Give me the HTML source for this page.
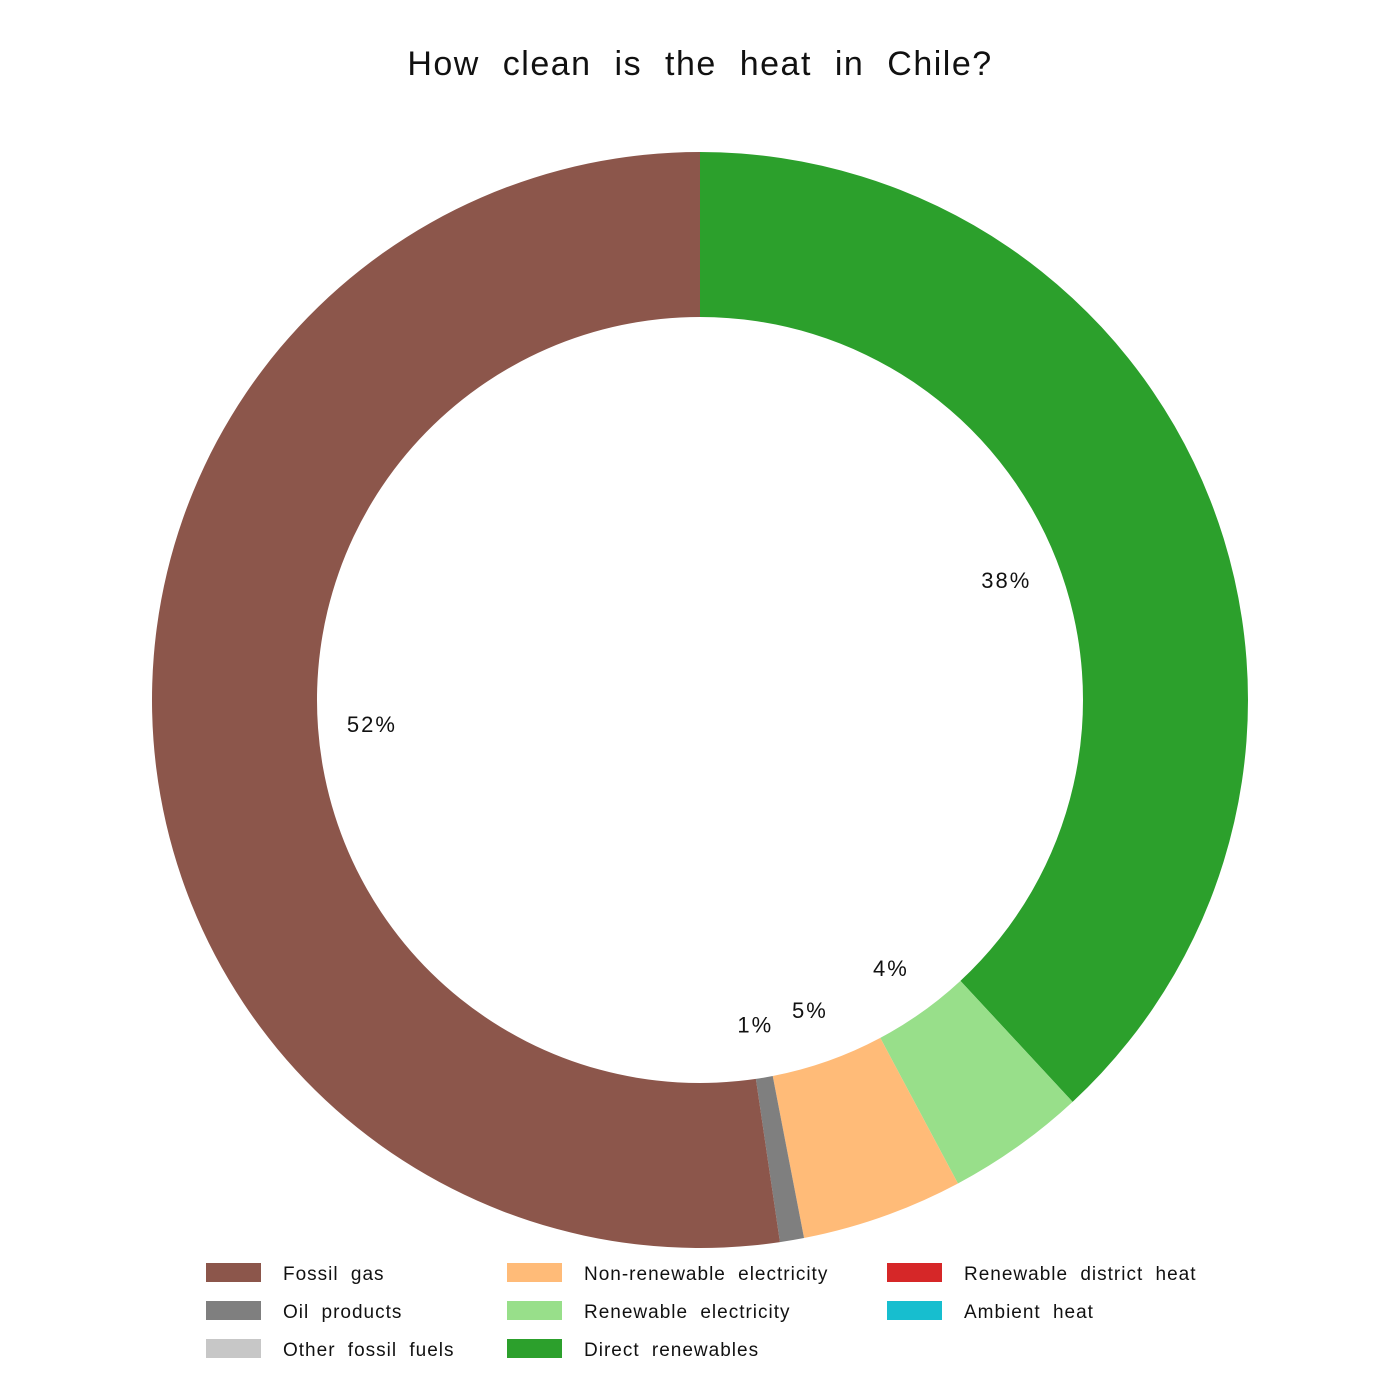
<!DOCTYPE html>
<html><head><meta charset="utf-8">
<style>
html,body{margin:0;padding:0;background:#fff;}
svg{display:block;font-family:"Liberation Sans","DejaVu Sans",sans-serif;}
</style></head>
<body>
<svg id="chart" width="1400" height="1400" viewBox="0 0 1400 1400">
<text x="700" y="75" text-anchor="middle" font-size="34" fill="#111" letter-spacing="1.5" word-spacing="12">How clean is the heat in Chile?</text>
<g id="slices"></g>
<g id="labels"></g>
<g id="legend"></g>
</svg>
<script>
const categories = ["Direct renewables","Renewable electricity","Non-renewable electricity","Oil products","Fossil gas"];
const values = [38.1, 4.1, 4.76, 0.71, 52.33];
const pctLabels = ["38%","4%","5%","1%","52%"];
const colors = ["#2ca02c","#98df8a","#ffbb78","#7f7f7f","#8c564b"];
const legendNames = ["Fossil gas","Oil products","Other fossil fuels","Non-renewable electricity","Renewable electricity","Direct renewables","Renewable district heat","Ambient heat"];
const legendColors = ["#8c564b","#7f7f7f","#c7c7c7","#ffbb78","#98df8a","#2ca02c","#d62728","#17becf"];

const NS="http://www.w3.org/2000/svg";
const cx=700, cy=700, R=548, r=383, LR=329;
const total=values.reduce((a,b)=>a+b,0);
function pt(rad,ang){return [cx+rad*Math.sin(ang), cy-rad*Math.cos(ang)];}
let a0=0;
const gS=document.getElementById('slices'), gL=document.getElementById('labels');
values.forEach((v,i)=>{
  const a1=a0+v/total*2*Math.PI;
  const large=(a1-a0)>Math.PI?1:0;
  const [x0,y0]=pt(R,a0),[x1,y1]=pt(R,a1),[x2,y2]=pt(r,a1),[x3,y3]=pt(r,a0);
  const p=document.createElementNS(NS,'path');
  p.setAttribute('d',`M${x0},${y0}A${R},${R} 0 ${large} 1 ${x1},${y1}L${x2},${y2}A${r},${r} 0 ${large} 0 ${x3},${y3}Z`);
  p.setAttribute('fill',colors[i]);
  
  
  gS.appendChild(p);
  const am=(a0+a1)/2;
  const [lx,ly]=pt(LR,am);
  const t=document.createElementNS(NS,'text');
  t.setAttribute('x',lx);t.setAttribute('y',ly+8);
  t.setAttribute('text-anchor','middle');t.setAttribute('font-size','22');t.setAttribute('fill','#111');
  t.setAttribute('letter-spacing','2');
  t.textContent=pctLabels[i];
  
  
  gL.appendChild(t);
  a0=a1;
});
const gLeg=document.getElementById('legend');
const colX=[206,507,887], rowY=[1263,1301,1339];
legendNames.forEach((n,i)=>{
  const c=Math.floor(i/3), rr=i%3;
  const g=document.createElementNS(NS,'g');
  
  
  const rect=document.createElementNS(NS,'rect');
  rect.setAttribute('x',colX[c]);rect.setAttribute('y',rowY[rr]);
  rect.setAttribute('width',55);rect.setAttribute('height',19);
  rect.setAttribute('fill',legendColors[i]);
  
  
  const t=document.createElementNS(NS,'text');
  t.setAttribute('x',colX[c]+77);t.setAttribute('y',rowY[rr]+17);
  t.setAttribute('font-size','19');t.setAttribute('fill','#111');
  t.setAttribute('letter-spacing','1');t.setAttribute('word-spacing','6');
  t.textContent=n;
  
  
  g.appendChild(rect);g.appendChild(t);gLeg.appendChild(g);
});
</script>
</body></html>
